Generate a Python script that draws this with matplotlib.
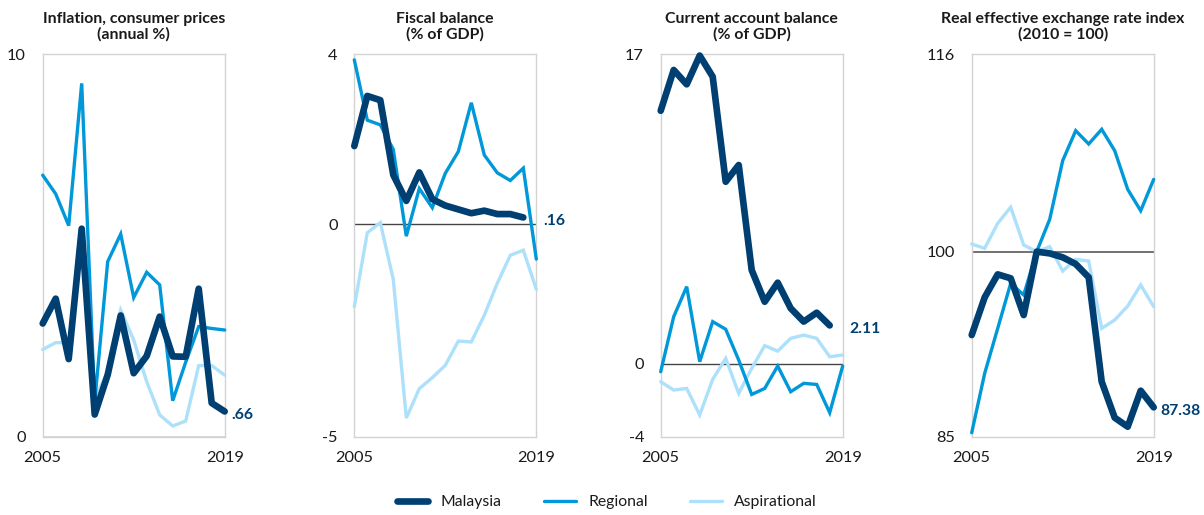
import matplotlib
matplotlib.use("Agg")
import matplotlib.pyplot as plt
import matplotlib.transforms as mtransforms
from matplotlib.lines import Line2D

plt.rcParams['font.family'] = ['Lato', 'DejaVu Sans']

years = list(range(2005, 2020))
series_names = ["Malaysia", "Regional", "Aspirational"]

titles = ["Inflation, consumer prices\n(annual %)",
          "Fiscal balance\n(% of GDP)",
          "Current account balance\n(% of GDP)",
          "Real effective exchange rate index\n(2010 = 100)"]

infl_mal = [2.96, 3.61, 2.03, 5.44, 0.58, 1.62, 3.17, 1.66, 2.11, 3.14, 2.10, 2.09, 3.87, 0.88, 0.66]
infl_reg = [6.84, 6.35, 5.52, 9.24, 0.90, 4.58, 5.30, 3.64, 4.30, 3.97, 0.94, 1.95, 2.88, 2.83, 2.79]
infl_asp = [2.28, 2.46, 2.46, 5.30, 1.00, 1.70, 3.31, 2.53, 1.44, 0.57, 0.28, 0.41, 1.86, 1.86, 1.61]

fisc_mal = [1.84, 3.02, 2.92, 1.16, 0.55, 1.22, 0.59, 0.44, 0.35, 0.26, 0.32, 0.24, 0.24, 0.16]
fisc_reg = [3.87, 2.45, 2.34, 1.76, -0.28, 0.84, 0.39, 1.20, 1.71, 2.86, 1.63, 1.21, 1.03, 1.32, -0.82]
fisc_asp = [-1.94, -0.20, 0.04, -1.30, -4.56, -3.87, -3.61, -3.32, -2.75, -2.77, -2.14, -1.39, -0.73, -0.61, -1.53]

ca_mal = [13.90, 16.14, 15.35, 16.93, 15.77, 10.00, 10.92, 5.15, 3.41, 4.46, 3.05, 2.32, 2.81, 2.11]
ca_reg = [-0.43, 2.59, 4.24, 0.12, 2.32, 1.90, 0.21, -1.68, -1.35, -0.12, -1.53, -1.07, -1.13, -2.68, -0.12]
ca_asp = [-0.98, -1.44, -1.35, -2.81, -0.85, 0.30, -1.62, -0.25, 1.00, 0.70, 1.40, 1.58, 1.40, 0.39, 0.49]

reer_mal = [93.24, 96.30, 98.16, 97.84, 94.86, 100.0, 99.86, 99.54, 99.00, 97.92, 89.46, 86.54, 85.81, 88.73, 87.38]
reer_reg = [85.32, 90.14, 93.78, 97.43, 96.49, 100.0, 102.62, 107.38, 109.81, 108.73, 109.92, 108.19, 105.05, 103.32, 105.86]
reer_asp = [100.62, 100.27, 102.30, 103.60, 100.54, 100.0, 100.40, 98.43, 99.38, 99.24, 93.78, 94.46, 95.59, 97.30, 95.54]

y_limits = [(0, 10), (-5, 4), (-4, 17), (85, 116)]
y_ticks = [[0, 10], [-5, 0, 4], [-4, 0, 17], [85, 100, 116]]
ref_lines = [0, 0, 0, 100]
end_labels = [".66", ".16", "2.11", "87.38"]

panel_data = [(infl_mal, infl_reg, infl_asp),
              (fisc_mal, fisc_reg, fisc_asp),
              (ca_mal, ca_reg, ca_asp),
              (reer_mal, reer_reg, reer_asp)]

c_mal = "#003f72"
c_reg = "#0098d8"
c_asp = "#ade0fa"
txt = "#1a1a1a"

W, H = 1204, 515
fig = plt.figure(figsize=(W / 100, H / 100), dpi=100)

lefts = [42.7, 354.3, 660.7, 971.7]
width_px = 182.0
top_px, bot_px = 54.3, 436.7

for i in range(4):
    ax = fig.add_axes([lefts[i] / W, (H - bot_px) / H, width_px / W, (bot_px - top_px) / H])
    mal, reg, asp = panel_data[i]
    ax.plot(years[:len(asp)], asp, color=c_asp, lw=2.4, solid_capstyle='round',
            solid_joinstyle='miter', clip_on=False, zorder=3)
    ax.plot(years[:len(reg)], reg, color=c_reg, lw=2.4, solid_capstyle='round',
            solid_joinstyle='miter', clip_on=False, zorder=4)
    ax.plot(years[:len(mal)], mal, color=c_mal, lw=4.8, solid_capstyle='round',
            solid_joinstyle='round', clip_on=False, zorder=5)
    ax.axhline(ref_lines[i], color="#444444" if i < 3 else "#666666",
               lw=1.0 if i < 3 else 1.3, zorder=2)
    ax.set_xlim(2005, 2019)
    ax.set_ylim(*y_limits[i])
    ax.set_xticks([2005, 2019])
    ax.set_xticklabels(["2005", "2019"])
    ax.set_yticks(y_ticks[i])
    ax.set_yticklabels([str(v) for v in y_ticks[i]])
    ax.tick_params(axis='both', length=0, labelsize=11.8, colors=txt)
    ax.tick_params(axis='y', pad=12)
    ax.tick_params(axis='x', pad=10.5)
    for s in ax.spines.values():
        s.set_color("#d3d3d3")
        s.set_linewidth(1.0)
    ax.set_title(titles[i], fontsize=11.4, fontweight='bold', color=txt,
                 linespacing=1.1, pad=11.5)
    trans = mtransforms.blended_transform_factory(ax.transAxes, ax.transData)
    ax.annotate(end_labels[i], xy=(1.0, mal[-1]), xycoords=trans,
                xytext=(5, -2.5), textcoords='offset points',
                ha='left', va='center', fontsize=11.3, fontweight='bold',
                color=c_mal, annotation_clip=False)

handles = [Line2D([], [], color=c_mal, lw=4.8, solid_capstyle='round'),
           Line2D([], [], color=c_reg, lw=2.4, solid_capstyle='round'),
           Line2D([], [], color=c_asp, lw=2.4, solid_capstyle='round')]
leg = fig.legend(handles, series_names, loc='center', bbox_to_anchor=(607 / W, (H - 502) / H),
                 ncol=3, frameon=False, fontsize=11.3, handlelength=2.0,
                 handletextpad=0.8, columnspacing=2.7)
for t in leg.get_texts():
    t.set_color(txt)

fig.savefig("out.png", dpi=100)
